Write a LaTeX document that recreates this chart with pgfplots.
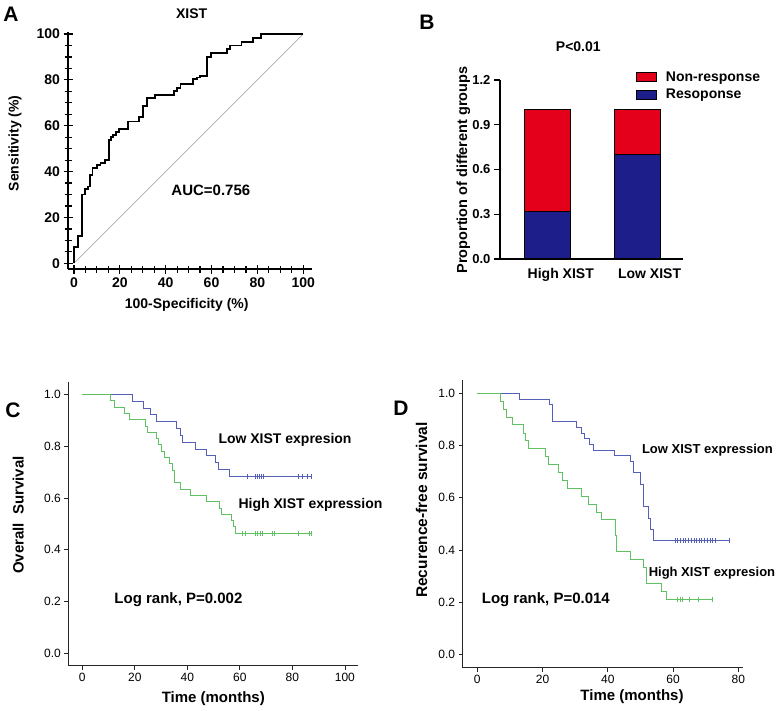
\documentclass[border=0pt]{standalone}
\usepackage{pgfplots}
\pgfplotsset{compat=1.18}
\usepackage{fontspec}
\setmainfont{Liberation Sans}
\definecolor{barred}{RGB}{228,0,27}
\definecolor{barblue}{RGB}{30,30,138}
\definecolor{kmblue}{RGB}{84,96,184}
\definecolor{kmgreen}{RGB}{96,192,100}
\newcommand{\fs}[1]{\fontsize{#1}{#1}\selectfont}
\begin{document}
\begin{tikzpicture}
\useasboundingbox (0,0) rectangle (779pt,711pt);
% ---------------- Panel A ----------------
\begin{axis}[
  at={(68pt,441.7pt)}, anchor=south west,
  scale only axis, width=243.7pt, height=237.6pt,
  xmin=-2.6, xmax=103.7, ymin=-2.6, ymax=101,
  axis lines*=left, axis line style={line width=1.8pt,-},
  xtick={0,20,40,60,80,100}, ytick={0,20,40,60,80,100},
  minor tick num=3,
  tick align=center,
  major tick length=9pt, minor tick length=7pt,
  tick style={black, line width=1.2pt},
  /pgf/number format/assume math mode=true,
  tick label style={font=\bfseries\fs{14}},
  clip=false,
]
\addplot[gray!80, line width=0.6pt] coordinates {(0,0) (100,100)};
\addplot[const plot, black, line width=1.8pt] coordinates {
(0,0) (0,7) (1.6,12) (3.6,30) (4.8,32.5) (6.0,33.5) (7.0,38.5) (8.1,41.7)
(10.2,42.9) (11.6,43.9) (13.5,45) (15.3,53.8) (16.2,55) (17.1,56) (18.3,57.3)
(19.8,58.4) (23.7,61.8) (28.3,63.7) (30,68.5) (32,72) (35.3,73.4) (43.5,75.3)
(45,76.5) (46.5,78.2) (51.8,80.4) (53.5,81) (55,81.6) (58.1,90) (59.8,91.7)
(66.6,93.3) (68.1,95) (73.1,96.6) (78.2,98.3) (81.7,100) (100,100)};
\node[font=\bfseries\fs{15}] at (axis cs:59.7,32) {AUC=0.756};
\end{axis}
\node[font=\bfseries\fs{21}] at (11pt,697pt) {A};
\node[font=\bfseries\fs{14}] at (191.7pt,697pt) {XIST};
\node[font=\bfseries\fs{14}, rotate=90] at (15pt,567.7pt) {Sensitivity (\%)};
\node[font=\bfseries\fs{14}] at (186.7pt,406pt) {100-Specificity (\%)};
% ---------------- Panel B ----------------
\begin{axis}[
  at={(500pt,452pt)}, anchor=south west,
  scale only axis, width=183pt, height=179pt,
  xmin=0.478, xmax=2.503, ymin=0, ymax=1.2,
  ybar stacked, bar width=46pt,
  axis lines*=left, axis line style={line width=1.3pt,-},
  xtick={1,2}, xticklabels={High XIST, Low XIST},
  xtick style={draw=none},
  ytick={0,0.3,0.6,0.9,1.2},
  tick align=outside, major tick length=6pt,
  ytick style={black, line width=1.1pt},
  /pgf/number format/assume math mode=true,
  yticklabel style={/pgf/number format/.cd, fixed, fixed zerofill, precision=1, /tikz/.cd, font=\bfseries\fs{13}},
  xticklabel style={anchor=north west, xshift=-23pt, font=\bfseries\fs{14}},
  legend style={at={(0.743,1.06)}, anchor=north west, draw=none, fill=none,
    font=\bfseries\fs{14}, inner sep=0pt, row sep=2.5pt,
    /tikz/every odd column/.append style={column sep=7pt}},
  legend cell align=left,
  reverse legend,
  legend image code/.code={\draw[#1,draw=black,line width=0.8pt] (0pt,-4.5pt) rectangle (20pt,4.5pt);},
  clip=false,
]
\addplot[fill=barblue, draw=black, line width=1.2pt] coordinates {(1,0.32) (2,0.70)};
\addplot[fill=barred, draw=black, line width=1.2pt] coordinates {(1,0.68) (2,0.30)};
\legend{Resoponse, Non-response}
\end{axis}
\node[font=\bfseries\fs{21}] at (427pt,689pt) {B};
\node[font=\bfseries\fs{14}] at (578.3pt,664.3pt) {P<0.01};
\node[font=\bfseries\fs{14.5}, rotate=90] at (463.3pt,541pt) {Proportion of different groups};
% ---------------- Panel C ----------------
\begin{axis}[
  at={(68.3pt,45.3pt)}, anchor=south west,
  scale only axis, width=290pt, height=284pt,
  xmin=-5.33, xmax=105.1, ymin=-0.048, ymax=1.049,
  axis lines*=left, axis line style={line width=1.1pt,-,black!85},
  xtick={0,20,40,60,80,100}, ytick={0,0.2,0.4,0.6,0.8,1},
  tick align=outside, major tick length=4pt,
  tick style={black!85, line width=0.8pt},
  /pgf/number format/assume math mode=true,
  yticklabel style={/pgf/number format/.cd, fixed, fixed zerofill, precision=1},
  tick label style={font=\fs{12}},
  clip=false,
]
\addplot[const plot, kmblue, line width=0.9pt] coordinates {
(0,1) (19.0,0.974) (23.1,0.947) (26.1,0.921) (28.1,0.895) (36.0,0.868) (37.2,0.842)
(38.1,0.816) (43.2,0.789) (47.1,0.763) (50.8,0.737) (52.0,0.711) (56.2,0.684) (87.5,0.684)};
\addplot[only marks, mark=|, mark size=2.5pt, kmblue, mark options={line width=0.8pt}] coordinates {
(62.9,0.684) (66.1,0.684) (66.8,0.684) (67.5,0.684) (68.2,0.684) (68.9,0.684)
(82.2,0.684) (84.0,0.684) (85.8,0.684) (87.3,0.684)};
\addplot[const plot, kmgreen, line width=0.9pt] coordinates {
(0,1) (10.9,0.976) (12.2,0.951) (16.0,0.927) (17.9,0.902) (23.9,0.878) (24.9,0.854)
(28.1,0.829) (28.9,0.805) (30.0,0.780) (31.2,0.756) (33.1,0.732) (34.3,0.707)
(35.0,0.659) (37.2,0.634) (41.0,0.610) (47.3,0.585) (52.4,0.561) (53.0,0.537)
(56.9,0.512) (57.5,0.488) (58.3,0.463) (87.3,0.463)};
\addplot[only marks, mark=|, mark size=2.5pt, kmgreen, mark options={line width=0.8pt}] coordinates {
(61.1,0.463) (62.2,0.463) (65.9,0.463) (66.8,0.463) (67.7,0.463) (68.6,0.463)
(72.2,0.463) (73.0,0.463) (82.2,0.463) (86.3,0.463) (87.3,0.463)};
\node[font=\bfseries\fs{14}] at (axis cs:77.2,0.824) {Low XIST expresion};
\node[font=\bfseries\fs{14}] at (axis cs:86.9,0.573) {High XIST expression};
\node[font=\bfseries\fs{15}] at (axis cs:36.6,0.206) {Log rank, P=0.002};
\end{axis}
\node[font=\bfseries\fs{21}] at (13pt,301pt) {C};
\node[font=\bfseries\fs{15}, rotate=90] at (18.3pt,196pt) {Overall\ \ Survival};
\node[font=\bfseries\fs{15}] at (213.3pt,12.7pt) {Time (months)};
% ---------------- Panel D ----------------
\begin{axis}[
  at={(462.7pt,43.3pt)}, anchor=south west,
  scale only axis, width=280.6pt, height=287.7pt,
  xmin=-4.47, xmax=81.5, ymin=-0.051, ymax=1.051,
  axis lines*=left, axis line style={line width=1.1pt,-,black!85},
  xtick={0,20,40,60,80}, ytick={0,0.2,0.4,0.6,0.8,1},
  tick align=outside, major tick length=4pt,
  tick style={black!85, line width=0.8pt},
  /pgf/number format/assume math mode=true,
  yticklabel style={/pgf/number format/.cd, fixed, fixed zerofill, precision=1},
  tick label style={font=\fs{12}},
  clip=false,
]
\addplot[const plot, kmblue, line width=0.9pt] coordinates {
(0,1) (12.9,0.978) (22.0,0.957) (23.0,0.891) (30.5,0.870) (31.8,0.848) (32.8,0.826)
(34.3,0.804) (35.6,0.783) (42.0,0.761) (47.0,0.739) (47.8,0.696) (49.9,0.652)
(50.9,0.565) (52.4,0.522) (53.1,0.478) (53.9,0.435) (77.2,0.435)};
\addplot[only marks, mark=|, mark size=2.5pt, kmblue, mark options={line width=0.8pt}] coordinates {
(60.6,0.435) (61.4,0.435) (62.2,0.435) (63.1,0.435) (63.9,0.435) (64.7,0.435)
(65.5,0.435) (66.4,0.435) (67.2,0.435) (68.0,0.435) (68.8,0.435) (69.7,0.435)
(70.5,0.435) (71.3,0.435) (72.1,0.435) (73.0,0.435) (77.2,0.435)};
\addplot[const plot, kmgreen, line width=0.9pt] coordinates {
(0,1) (6.96,0.970) (7.97,0.939) (9.0,0.909) (10.7,0.879) (14.1,0.848) (14.8,0.818)
(15.8,0.788) (21.0,0.758) (21.8,0.727) (24.8,0.697) (26.1,0.667) (27.7,0.636)
(32.0,0.606) (34.0,0.576) (36.6,0.545) (38.1,0.515) (42.2,0.455) (42.7,0.394)
(46.8,0.364) (50.9,0.333) (51.9,0.273) (56.5,0.242) (58.1,0.212) (72.1,0.212)};
\addplot[only marks, mark=|, mark size=2.5pt, kmgreen, mark options={line width=0.8pt}] coordinates {
(61.3,0.212) (62.1,0.212) (62.9,0.212) (65.0,0.212) (67.8,0.212) (72.1,0.212)};
\node[font=\bfseries\fs{13}] at (axis cs:70.5,0.783) {Low XIST expression};
\node[font=\bfseries\fs{13}] at (axis cs:71.9,0.310) {High XIST expresion};
\node[font=\bfseries\fs{15}] at (axis cs:21.0,0.208) {Log rank, P=0.014};
\end{axis}
\node[font=\bfseries\fs{21}] at (401pt,303pt) {D};
\node[font=\bfseries\fs{15.5}, rotate=90] at (421.7pt,201pt) {Recurence-free survival};
\node[font=\bfseries\fs{15}] at (632pt,14.3pt) {Time (months)};
\end{tikzpicture}
\end{document}
